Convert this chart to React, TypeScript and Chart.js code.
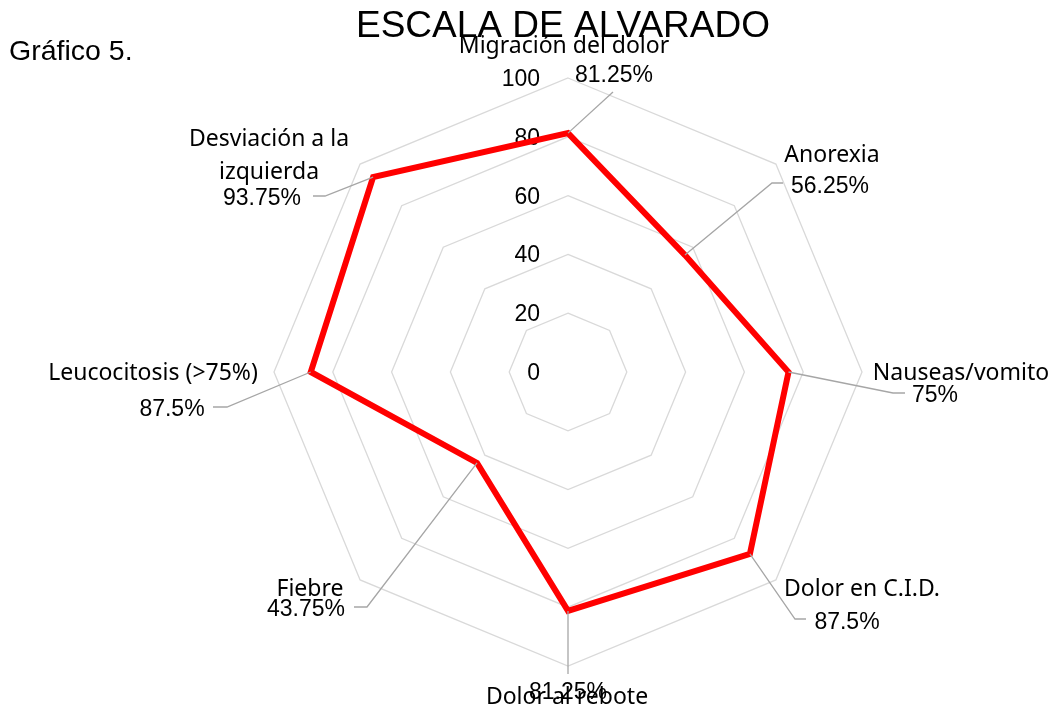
import React, { useEffect, useRef } from "react";
import { Chart, registerables } from "chart.js";

Chart.register(...registerables);

// ---- data ----
const categories = [
  "Migración del dolor",
  "Anorexia",
  "Nauseas/vomito",
  "Dolor en C.I.D.",
  "Dolor al rebote",
  "Fiebre",
  "Leucocitosis (>75%)",
  "Desviación a la izquierda",
];
const values = [81.25, 56.25, 75, 87.5, 81.25, 43.75, 87.5, 93.75];
const tickValues = [0, 20, 40, 60, 80, 100];
const chartTitle = "ESCALA DE ALVARADO";
const figureCaption = "Gráfico 5.";

// ---- label layout (offsets from the radar centre, px) ----
const nameLines = [
  ["Migración del dolor"],
  ["Anorexia"],
  ["Nauseas/vomito"],
  ["Dolor en C.I.D."],
  ["Dolor al rebote"],
  ["Fiebre"],
  ["Leucocitosis (>75%)"],
  ["Desviación a la", "izquierda"],
];
const nameOffsets = [
  [-4, -319],
  [264, -210],
  [393, 8],
  [294, 224],
  [-1, 332],
  [-258, 224],
  [-415, 8],
  [-299, -226],
];
const valueOffsets = [
  [46, -290],
  [262, -179],
  [367, 30],
  [279, 257],
  [0, 327],
  [-262, 244],
  [-396, 44],
  [-306, -167],
];
const leaderOffsets = [
  [[45, -280]],
  [[204, -189], [215, -189]],
  [[325, 21], [337, 21]],
  [[227, 247], [238, 247]],
  [[0, 302]],
  [[-201, 235], [-214, 235]],
  [[-341, 35], [-355, 35]],
  [[-243, -176], [-255, -176]],
];

const labelPlugin = {
  id: "excelLabels",
  beforeDatasetsDraw(chart: any) {
    const ctx = chart.ctx;
    const s = chart.scales.r;
    ctx.save();
    ctx.fillStyle = "#000000";
    ctx.font = "23px 'Liberation Sans', Arial, sans-serif";
    ctx.textAlign = "right";
    ctx.textBaseline = "alphabetic";
    tickValues.forEach((t) => {
      const d = s.getDistanceFromCenterForValue(t);
      ctx.fillText(String(t), s.xCenter - 28, s.yCenter - d + 8);
    });
    ctx.restore();
  },
  afterDatasetsDraw(chart: any) {
    const ctx = chart.ctx;
    const s = chart.scales.r;
    const cx = s.xCenter;
    const cy = s.yCenter;
    ctx.save();
    // leader lines
    ctx.strokeStyle = "#a6a6a6";
    ctx.lineWidth = 1.3;
    values.forEach((v, i) => {
      const p = s.getPointPositionForValue(i, v);
      ctx.beginPath();
      ctx.moveTo(p.x, p.y);
      leaderOffsets[i].forEach((o) => ctx.lineTo(cx + o[0], cy + o[1]));
      ctx.stroke();
    });
    // category names
    ctx.fillStyle = "#000000";
    ctx.textAlign = "center";
    ctx.textBaseline = "alphabetic";
    ctx.font = "23px 'Noto Sans', sans-serif";
    nameLines.forEach((lines, i) => {
      lines.forEach((ln, j) => {
        ctx.fillText(ln, cx + nameOffsets[i][0], cy + nameOffsets[i][1] + j * 33);
      });
    });
    // values
    ctx.font = "23px 'Liberation Sans', Arial, sans-serif";
    values.forEach((v, i) => {
      ctx.fillText(v + "%", cx + valueOffsets[i][0], cy + valueOffsets[i][1]);
    });
    // titles
    ctx.font = "37px 'Liberation Sans', Arial, sans-serif";
    ctx.fillText(chartTitle, 563, 37);
    ctx.textAlign = "left";
    ctx.font = "28.5px 'Liberation Sans', Arial, sans-serif";
    ctx.fillText(figureCaption, 9, 60);
    ctx.restore();
  },
};

export default function App() {
  const ref = useRef<HTMLCanvasElement | null>(null);
  useEffect(() => {
    if (!ref.current) return;
    const chart = new Chart(ref.current, {
      type: "radar",
      data: {
        labels: categories,
        datasets: [
          {
            data: values,
            borderColor: "#ff0000",
            backgroundColor: "rgba(0,0,0,0)",
            borderWidth: 6,
            borderJoinStyle: "miter",
            fill: false,
            pointRadius: 0,
            pointHoverRadius: 0,
            tension: 0,
          },
        ],
      },
      options: {
        responsive: false,
        animation: false,
        devicePixelRatio: 1,
        layout: { padding: { top: 78, bottom: 44, left: 274, right: 190 } },
        plugins: {
          legend: { display: false },
          tooltip: { enabled: false },
          title: { display: false },
        },
        scales: {
          r: {
            min: 0,
            max: 100,
            ticks: { stepSize: 20, display: false, showLabelBackdrop: false },
            grid: { color: "#d9d9d9", lineWidth: 1.3 },
            angleLines: { display: false },
            pointLabels: { display: false },
          },
        },
      } as any,
      plugins: [labelPlugin],
    });
    return () => chart.destroy();
  }, []);
  return (
    <div style={{ position: "absolute", left: 0, top: 0, width: 1053, height: 711, background: "#ffffff" }}>
      <canvas ref={ref} width={1053} height={711} style={{ display: "block" }} />
    </div>
  );
}
